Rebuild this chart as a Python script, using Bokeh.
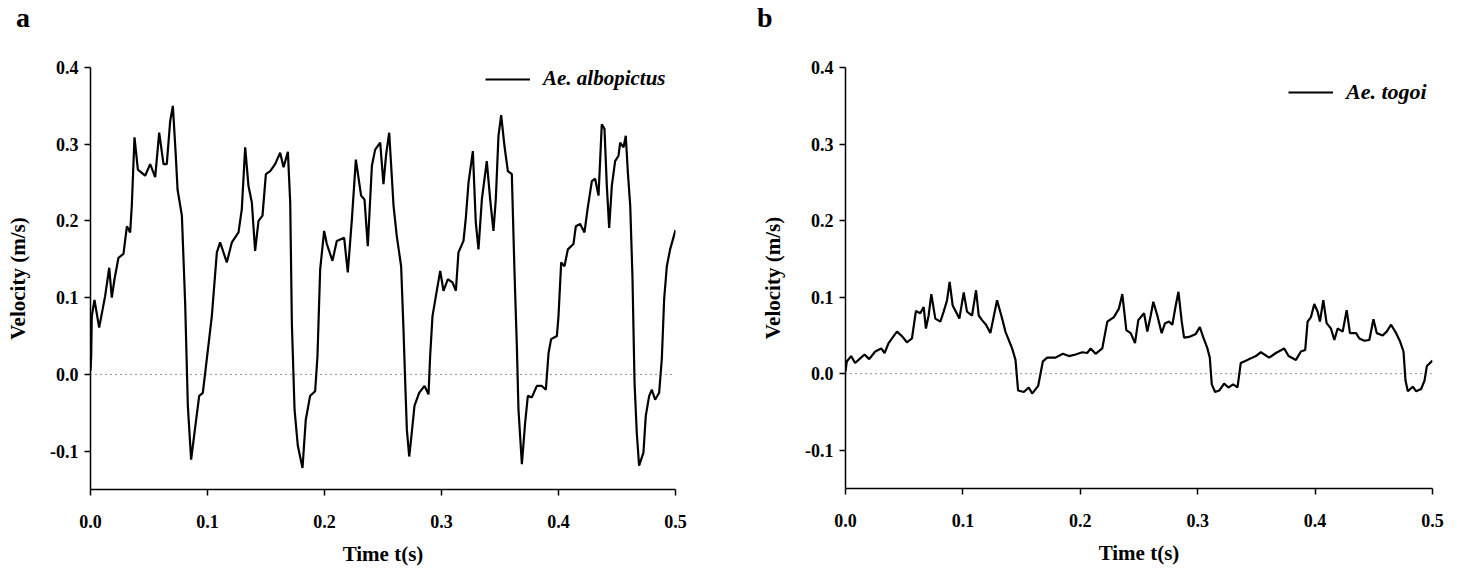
from bokeh.plotting import figure
from bokeh.layouts import row, column
from bokeh.models import Range1d, FixedTicker, PrintfTickFormatter, Span, Legend, LegendItem, Div
from bokeh.embed import file_html
from bokeh.resources import INLINE

# ---- data ----
time_a = [0.0, 0.0006, 0.0011, 0.0034, 0.0074, 0.0125, 0.016, 0.0182, 0.0205, 0.0239,
          0.0282, 0.0311, 0.0339, 0.0353, 0.0376, 0.0405, 0.0467, 0.051, 0.0553, 0.0587,
          0.0624, 0.0652, 0.0681, 0.0704, 0.0729, 0.0744, 0.0781, 0.0809, 0.0832, 0.086,
          0.0889, 0.0929, 0.096, 0.0994, 0.1037, 0.108, 0.1108, 0.1165, 0.1208, 0.1265,
          0.1293, 0.1322, 0.135, 0.1379, 0.1407, 0.1436, 0.147, 0.1499, 0.1536, 0.1578,
          0.1621, 0.165, 0.1687, 0.1707, 0.1721, 0.1744, 0.1772, 0.1812, 0.184, 0.1877,
          0.192, 0.194, 0.1963, 0.1997, 0.202, 0.2068, 0.2105, 0.2168, 0.2199, 0.2219,
          0.2234, 0.2268, 0.2313, 0.2342, 0.237, 0.2405, 0.2433, 0.2476, 0.2504, 0.2527,
          0.2553, 0.259, 0.2618, 0.2655, 0.2675, 0.269, 0.2704, 0.2724, 0.2746, 0.2769,
          0.2809, 0.2855, 0.2889, 0.2903, 0.2923, 0.2952, 0.2989, 0.3017, 0.3054, 0.3094,
          0.3123, 0.3145, 0.3188, 0.3208, 0.3231, 0.3268, 0.3293, 0.3316, 0.3345, 0.3387,
          0.3416, 0.3444, 0.3464, 0.3487, 0.351, 0.3538, 0.3567, 0.3601, 0.3624, 0.3644,
          0.3658, 0.3687, 0.3715, 0.3738, 0.3772, 0.3815, 0.3858, 0.3892, 0.3915, 0.3937,
          0.3986, 0.4, 0.4023, 0.4051, 0.408, 0.4128, 0.4148, 0.4185, 0.4222, 0.4248,
          0.4285, 0.4313, 0.4342, 0.437, 0.4393, 0.4413, 0.4433, 0.4456, 0.4484, 0.4513,
          0.4527, 0.4556, 0.4575, 0.4593, 0.4613, 0.4632, 0.465, 0.4669, 0.4689, 0.4726,
          0.4746, 0.4775, 0.4798, 0.4826, 0.486, 0.4883, 0.4903, 0.4926, 0.4954, 0.5]
velocity_a = [0.005, 0.024, 0.076, 0.097, 0.061, 0.102, 0.139, 0.100, 0.124, 0.152,
              0.157, 0.193, 0.185, 0.220, 0.309, 0.267, 0.259, 0.274, 0.257, 0.315,
              0.274, 0.274, 0.330, 0.350, 0.285, 0.241, 0.207, 0.093, -0.041, -0.111,
              -0.076, -0.028, -0.024, 0.020, 0.076, 0.159, 0.172, 0.146, 0.172, 0.185,
              0.215, 0.296, 0.246, 0.224, 0.161, 0.200, 0.207, 0.261, 0.265, 0.274,
              0.289, 0.270, 0.290, 0.224, 0.067, -0.046, -0.093, -0.122, -0.059, -0.028,
              -0.022, 0.024, 0.137, 0.187, 0.170, 0.148, 0.174, 0.178, 0.133, 0.172,
              0.202, 0.280, 0.233, 0.228, 0.167, 0.272, 0.293, 0.302, 0.248, 0.287,
              0.315, 0.220, 0.180, 0.141, 0.059, -0.011, -0.072, -0.107, -0.076, -0.041,
              -0.024, -0.015, -0.026, 0.024, 0.076, 0.102, 0.135, 0.109, 0.124, 0.120,
              0.109, 0.159, 0.174, 0.204, 0.250, 0.291, 0.198, 0.163, 0.228, 0.278,
              0.228, 0.187, 0.228, 0.311, 0.338, 0.298, 0.265, 0.261, 0.133, 0.037,
              -0.046, -0.117, -0.063, -0.028, -0.030, -0.015, -0.015, -0.020, 0.028, 0.046,
              0.050, 0.076, 0.146, 0.141, 0.163, 0.170, 0.193, 0.196, 0.185, 0.215,
              0.252, 0.255, 0.233, 0.326, 0.320, 0.246, 0.191, 0.246, 0.278, 0.285,
              0.302, 0.296, 0.311, 0.263, 0.220, 0.128, -0.011, -0.076, -0.119, -0.102,
              -0.054, -0.028, -0.020, -0.033, -0.024, 0.020, 0.098, 0.141, 0.163, 0.188]

time_b = [0.0, 0.0011, 0.0048, 0.0082, 0.0111, 0.0162, 0.0202, 0.0253, 0.0304, 0.0333,
          0.0367, 0.0438, 0.0481, 0.0523, 0.0566, 0.06, 0.0637, 0.0666, 0.0685, 0.0708,
          0.0731, 0.0765, 0.0808, 0.0836, 0.0865, 0.0887, 0.0913, 0.097, 0.1007, 0.1035,
          0.1078, 0.1112, 0.1135, 0.1163, 0.1197, 0.1234, 0.1291, 0.1334, 0.1362, 0.1419,
          0.1448, 0.147, 0.1519, 0.1561, 0.159, 0.1641, 0.1681, 0.1718, 0.1789, 0.1852,
          0.1903, 0.196, 0.2017, 0.2059, 0.2088, 0.213, 0.2187, 0.223, 0.2287, 0.2329,
          0.2358, 0.2392, 0.2429, 0.2466, 0.2494, 0.2543, 0.2571, 0.26, 0.2622, 0.2656,
          0.2693, 0.2722, 0.2756, 0.2784, 0.2813, 0.2836, 0.2864, 0.2884, 0.2927, 0.2984,
          0.3018, 0.3046, 0.3083, 0.3103, 0.312, 0.3148, 0.3183, 0.3225, 0.3262, 0.3302,
          0.3339, 0.3367, 0.341, 0.3453, 0.3495, 0.3538, 0.3609, 0.3666, 0.3737, 0.3774,
          0.3837, 0.3879, 0.3916, 0.3936, 0.3965, 0.3993, 0.4022, 0.4041, 0.407, 0.4098,
          0.4135, 0.4164, 0.4192, 0.4235, 0.4269, 0.4297, 0.4349, 0.4377, 0.442, 0.4462,
          0.4497, 0.4525, 0.4576, 0.461, 0.4647, 0.469, 0.4724, 0.4753, 0.477, 0.479,
          0.4832, 0.4861, 0.4903, 0.4932, 0.4952, 0.5]
velocity_b = [0.003, 0.016, 0.023, 0.014, 0.018, 0.025, 0.019, 0.029, 0.033, 0.027,
              0.040, 0.055, 0.049, 0.041, 0.046, 0.082, 0.079, 0.087, 0.059, 0.076,
              0.104, 0.072, 0.068, 0.081, 0.096, 0.120, 0.089, 0.072, 0.106, 0.081,
              0.076, 0.109, 0.076, 0.070, 0.064, 0.053, 0.096, 0.072, 0.055, 0.033,
              0.018, -0.022, -0.024, -0.018, -0.026, -0.016, 0.016, 0.021, 0.021, 0.026,
              0.023, 0.025, 0.028, 0.027, 0.033, 0.026, 0.033, 0.068, 0.074, 0.085,
              0.104, 0.057, 0.053, 0.040, 0.070, 0.079, 0.055, 0.076, 0.094, 0.076,
              0.053, 0.066, 0.068, 0.064, 0.089, 0.107, 0.068, 0.047, 0.048, 0.052,
              0.061, 0.048, 0.033, 0.021, -0.014, -0.024, -0.022, -0.013, -0.018, -0.014,
              -0.018, 0.014, 0.017, 0.020, 0.023, 0.028, 0.021, 0.027, 0.033, 0.023,
              0.018, 0.029, 0.031, 0.068, 0.074, 0.091, 0.081, 0.068, 0.096, 0.066,
              0.059, 0.044, 0.059, 0.055, 0.083, 0.053, 0.053, 0.046, 0.043, 0.044,
              0.071, 0.053, 0.050, 0.055, 0.064, 0.053, 0.042, 0.029, -0.009, -0.023,
              -0.017, -0.023, -0.020, -0.009, 0.010, 0.017]

x_ticks = [0.0, 0.1, 0.2, 0.3, 0.4, 0.5]
y_ticks = [-0.1, 0.0, 0.1, 0.2, 0.3, 0.4]
x_label = "Time t(s)"
y_label = "Velocity (m/s)"
panel_labels = ["a", "b"]
series_names = ["Ae. albopictus", "Ae. togoi"]

FONT = "Liberation Serif"
HEADER_H = 30


def make_panel(t, v, name, border_left, border_right, border_top, frame_w, frame_h,
               border_bottom, legend_loc, legend_size):
    p = figure(frame_width=frame_w, frame_height=frame_h,
               min_border_left=border_left, min_border_right=border_right,
               min_border_top=border_top, min_border_bottom=border_bottom,
               x_range=Range1d(0, 0.5), y_range=Range1d(-0.15, 0.4),
               output_backend="svg", toolbar_location=None, tools="")
    p.outline_line_color = None
    p.xgrid.visible = False
    p.ygrid.visible = False
    p.background_fill_color = "white"
    p.border_fill_color = "white"

    for ax, ticks in ((p.xaxis[0], x_ticks), (p.yaxis[0], y_ticks)):
        ax.ticker = FixedTicker(ticks=ticks)
        ax.formatter = PrintfTickFormatter(format="%.1f")
        ax.major_label_text_font = FONT
        ax.major_label_text_font_style = "bold"
        ax.major_label_text_font_size = "18px"
        ax.major_label_text_color = "black"
        ax.axis_label_text_font = FONT
        ax.axis_label_text_font_style = "bold"
        ax.axis_label_text_font_size = "21px"
        ax.axis_label_text_color = "black"
        ax.axis_line_color = "black"
        ax.axis_line_width = 1.5
        ax.major_tick_line_color = "black"
        ax.major_tick_line_width = 1.5
        ax.major_tick_out = 6
        ax.major_tick_in = 0
        ax.minor_tick_line_color = None
    p.xaxis.axis_label = x_label
    p.yaxis.axis_label = y_label
    p.xaxis.major_label_standoff = 19
    p.xaxis.axis_label_standoff = 11
    p.yaxis.major_label_standoff = 6
    p.yaxis.axis_label_standoff = 17

    p.add_layout(Span(location=0, dimension="width", line_color="#222222",
                      line_width=1, line_dash="1 4"))

    r = p.line(t, v, line_color="black", line_width=2.2)

    legend = Legend(items=[LegendItem(label=name, renderers=[r])],
                    location=legend_loc, padding=0, margin=0,
                    border_line_color=None, background_fill_alpha=0,
                    glyph_width=45, glyph_height=20, label_height=20,
                    label_standoff=13,
                    label_text_font=FONT, label_text_font_style="bold italic",
                    label_text_font_size=legend_size, label_text_color="black")
    p.add_layout(legend, "center")
    return p


def header(text, width, pad_left):
    return Div(text=text, width=width, height=HEADER_H, margin=(0, 0, 0, 0),
               styles={"font-family": FONT, "font-weight": "bold", "font-size": "28px",
                       "line-height": "28px", "padding-left": f"{pad_left}px",
                       "padding-top": "4px", "color": "black",
                       "box-sizing": "border-box"})


pa = make_panel(time_a, velocity_a, series_names[0],
                90, 81, 67 - HEADER_H, 585, 422, 74, (395, 398), "21px")
pb = make_panel(time_b, velocity_b, series_names[1],
                89, 15, 65 - HEADER_H, 587, 421, 77, (443, 383), "22px")

ha = header(panel_labels[0], 756, 16)
hb = header(panel_labels[1], 691, 1)

layout = column(row(ha, hb), row(pa, pb))
open("out.html", "w").write(file_html(layout, INLINE))
